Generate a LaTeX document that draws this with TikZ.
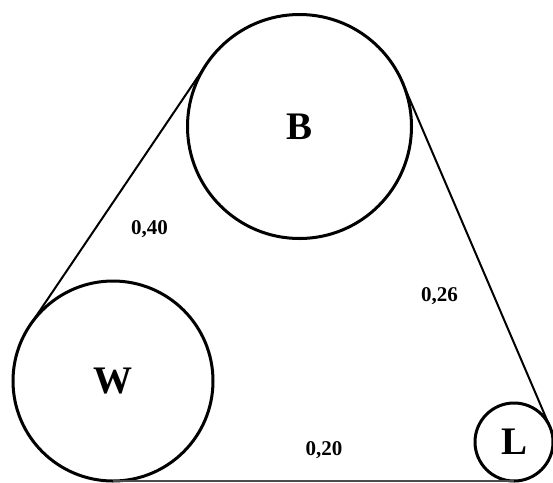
\documentclass[tikz,border=0pt]{standalone}
\usepackage{fontspec}
\setmainfont{Liberation Serif}
\begin{document}
\begin{tikzpicture}[x=1pt,y=-1pt,
  wheel/.style={circle,draw,line width=3pt,outer sep=0pt,inner sep=0pt,font=\fontsize{39}{39}\selectfont\bfseries},
  belt/.style={line width=2pt},
  lab/.style={anchor=base,inner sep=0pt,font=\fontsize{21}{21}\selectfont\bfseries}]
\useasboundingbox (0,0) rectangle (553,482);
\node[wheel,minimum size=224pt] (B) at (299.5,126.5) {B};
\node[wheel,minimum size=200pt] (W) at (113,381) {W};
\node[wheel,minimum size=78pt] (L) at (514,442) {L};
\draw[belt] (B.146) -- (W.146);
\draw[belt] (B.23.2) -- (L.23.2);
\draw[line width=1.5pt,black!70] (W.south) -- (L.south);
\node[lab] (l1) at (149.5,234.3) {0,40};
\node[lab] (l2) at (439.5,301.5) {0,26};
\node[lab] (l3) at (324,455) {0,20};
\end{tikzpicture}
\end{document}
